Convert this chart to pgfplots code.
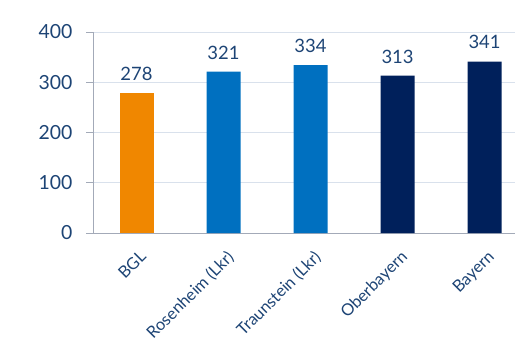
\documentclass[border=0pt]{standalone}
\usepackage{pgfplots}
\pgfplotsset{compat=1.18}
\usepackage{fontspec}
\setmainfont{Lato}
\definecolor{txt}{HTML}{1D4475}
\definecolor{org}{HTML}{F08700}
\definecolor{blu}{HTML}{0070C0}
\definecolor{nav}{HTML}{00205B}
\definecolor{grd}{HTML}{D9E1EC}
\definecolor{axc}{HTML}{A3AAB8}
\begin{document}
\begin{tikzpicture}[x=1bp,y=1bp]
\begin{axis}[
  at={(0,0)}, anchor=south west,
  scale only axis, width=422bp, height=201bp,
  xmin=-0.5, xmax=4.35, ymin=0, ymax=400,
  ytick={0,100,200,300,400},
  xtick={0,1,2,3,4},
  xticklabels={BGL,Rosenheim (Lkr),Traunstein (Lkr),Oberbayern,Bayern},
  x tick label style={rotate=45, anchor=north east, inner sep=1pt, yshift=-7bp, xshift=-4bp, font=\fontsize{16.5}{16.5}\selectfont},
  major x tick style={draw=none},
  extra x ticks={0.5,1.5,2.5,3.5},
  extra x tick labels={},
  extra x tick style={grid=none, tick style={draw=axc, line width=0.8pt}, major tick length=6bp, tick align=outside},
  ymajorgrids, grid style={draw=grd, line width=1pt},
  axis x line*=bottom, axis y line*=left,
  axis line style={draw=axc, line width=0.8pt, -},
  y tick style={draw=axc, line width=0.8pt},
  tick align=outside, major tick length=7bp,
  ticklabel style={text=txt},
  yticklabel style={font=\fontsize{19.5}{19.5}\selectfont, xshift=-10bp},
  /pgf/number format/assume math mode=true,
  clip=false,
  ybar, bar width=34bp, bar shift=0pt,
  nodes near coords,
  every node near coord/.append style={font=\fontsize{18.5}{18.5}\selectfont, text=txt, yshift=9bp},
]
\addplot[fill=org, draw=none] coordinates {(0,278)};
\addplot[fill=blu, draw=none] coordinates {(1,321) (2,334)};
\addplot[fill=nav, draw=none] coordinates {(3,313) (4,341)};
\end{axis}
\pgfresetboundingbox
\path (-93,-108) rectangle (422,233);
\end{tikzpicture}
\end{document}
